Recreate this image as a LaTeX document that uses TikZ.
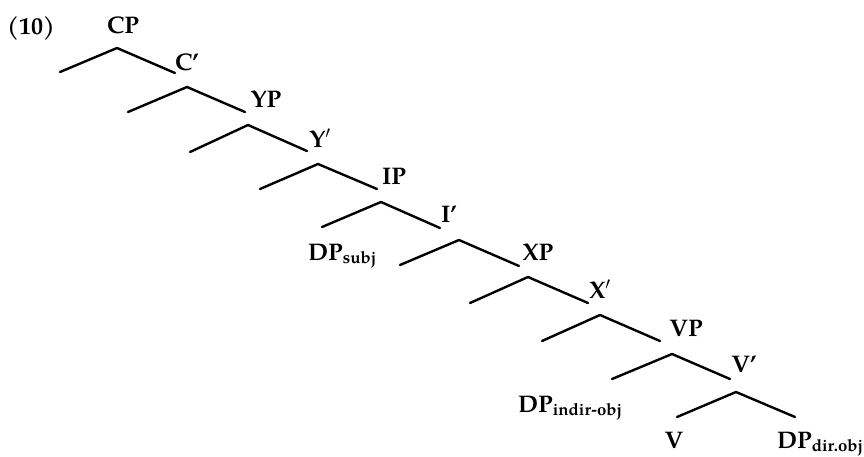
\documentclass[tikz,border=0pt]{standalone}
\usepackage{fontspec}
\setmainfont{TeX Gyre Pagella}
\begin{document}
\begin{tikzpicture}[x=1pt,y=-1pt,
  lab/.style={font=\fontsize{24}{26}\selectfont\bfseries, inner sep=0pt},
  sub/.style={font=\fontsize{24}{26}\selectfont\bfseries, inner sep=0pt, anchor=base west},
  br/.style={line width=2.4pt, line cap=round, line join=round}]
\useasboundingbox (0,0) rectangle (864,456);
% labels
\node[lab] (ex) at (31,28) {(10)};
\node[lab] (cp) at (123,25) {CP};
\node[lab] (cbar) at (187,62) {C'};
\node[lab] (yp) at (266,99) {YP};
\node[lab] (ybar) at (320,138) {Y$'$};
\node[lab] (ip) at (394,176) {IP};
\node[lab] (ibar) at (449,214) {I'};
\node[sub] (dpsubj) at (308,260) {DP\textsubscript{subj}};
\node[lab] (xp) at (538,252) {XP};
\node[lab] (xbar) at (600,289) {X$'$};
\node[lab] (vp) at (686,328) {VP};
\node[lab] (vbar) at (744,364) {V'};
\node[sub] (dpind) at (518,412) {DP\textsubscript{indir-obj}};
\node[lab] (v) at (674,440) {V};
\node[sub] (dpdir) at (777,448) {DP\textsubscript{dir.obj}};
% branch coordinates
\coordinate (a1) at (117,48);  \coordinate (l1) at (60,72);   \coordinate (r1) at (175,73);
\coordinate (a2) at (187,87);  \coordinate (l2) at (128,112); \coordinate (r2) at (245,112);
\coordinate (a3) at (248,125); \coordinate (l3) at (190,152); \coordinate (r3) at (307,151);
\coordinate (a4) at (318,164); \coordinate (l4) at (260,189); \coordinate (r4) at (377,189);
\coordinate (a5) at (381,202); \coordinate (l5) at (322,227); \coordinate (r5) at (440,228);
\coordinate (a6) at (459,240); \coordinate (l6) at (400,265); \coordinate (r6) at (519,266);
\coordinate (a7) at (528,277); \coordinate (l7) at (470,303); \coordinate (r7) at (588,303);
\coordinate (a8) at (600,315); \coordinate (l8) at (542,341); \coordinate (r8) at (660,341);
\coordinate (a9) at (672,354); \coordinate (l9) at (612,379); \coordinate (r9) at (730,379);
\coordinate (a10) at (736,392); \coordinate (l10) at (677,417); \coordinate (r10) at (795,417);
\foreach \i in {1,...,10} {
  \draw[br] (l\i) -- (a\i) -- (r\i);
}
\end{tikzpicture}
\end{document}
